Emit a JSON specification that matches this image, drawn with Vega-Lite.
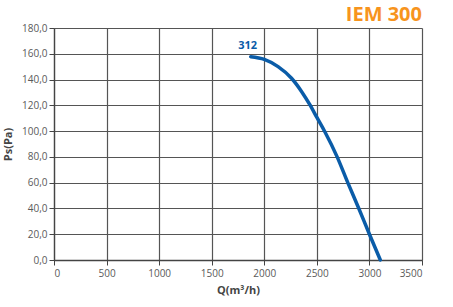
{
  "$schema": "https://vega.github.io/schema/vega-lite/v6.json",
  "width": 368,
  "height": 232,
  "autosize": {"type": "none"},
  "padding": {"left": 54, "top": 28, "right": 31, "bottom": 47},
  "background": "white",
  "config": {
    "view": {"stroke": null},
    "font": "Open Sans",
    "axis": {
      "gridColor": "#555",
      "gridOpacity": 1,
      "gridWidth": 1.2,
      "domainColor": "#444",
      "domainWidth": 1.3,
      "tickColor": "#444",
      "tickSize": 5,
      "labelColor": "#5a5a5a",
      "labelFont": "Open Sans",
      "labelFontSize": 10,
      "labelOverlap": false,
      "titleFont": "Open Sans",
      "titleFontSize": 11,
      "titleFontWeight": "bold",
      "titleColor": "#444"
    }
  },
  "datasets": {
    "curve": [
      {"Q": 1871, "Ps": 157.7},
      {"Q": 2000, "Ps": 155.6},
      {"Q": 2131, "Ps": 150},
      {"Q": 2259, "Ps": 141},
      {"Q": 2354, "Ps": 130.8},
      {"Q": 2433, "Ps": 120.5},
      {"Q": 2503, "Ps": 110.2},
      {"Q": 2576, "Ps": 99.5},
      {"Q": 2693, "Ps": 80},
      {"Q": 2794, "Ps": 60},
      {"Q": 2899, "Ps": 40},
      {"Q": 3000, "Ps": 20},
      {"Q": 3104, "Ps": 0}
    ],
    "label": [{"Q": 1871, "Ps": 157.7, "name": "312"}],
    "title": [{"Q": 3500, "Ps": 180, "name": "IEM 300"}]
  },
  "encoding": {
    "x": {
      "field": "Q", "type": "quantitative",
      "scale": {"domain": [0, 3500], "nice": false},
      "axis": {"values": [0, 500, 1000, 1500, 2000, 2500, 3000, 3500], "format": "d", "title": "Q(m³/h)", "titlePadding": 6, "labelPadding": 3}
    },
    "y": {
      "field": "Ps", "type": "quantitative",
      "scale": {"domain": [0, 180], "nice": false},
      "axis": {"values": [0, 20, 40, 60, 80, 100, 120, 140, 160, 180], "title": "Ps(Pa)", "titlePadding": 8, "labelPadding": 2, "labelExpr": "replace(format(datum.value, '.1f'), '.', ',')"}
    }
  },
  "layer": [
    {
      "data": {"name": "curve"},
      "mark": {"type": "line", "color": "#0a5ca8", "strokeWidth": 3.5, "interpolate": "monotone", "strokeCap": "round"}
    },
    {
      "data": {"name": "label"},
      "mark": {"type": "text", "color": "#0a5ca8", "fontWeight": "bold", "fontSize": 11, "dy": -11, "dx": -3, "font": "Open Sans"},
      "encoding": {"text": {"field": "name"}}
    },
    {
      "data": {"name": "title"},
      "mark": {"type": "text", "color": "#f7941d", "fontWeight": "bold", "fontSize": 20, "align": "right", "baseline": "alphabetic", "dy": -7, "font": "Open Sans"},
      "encoding": {"text": {"field": "name"}}
    }
  ]
}
